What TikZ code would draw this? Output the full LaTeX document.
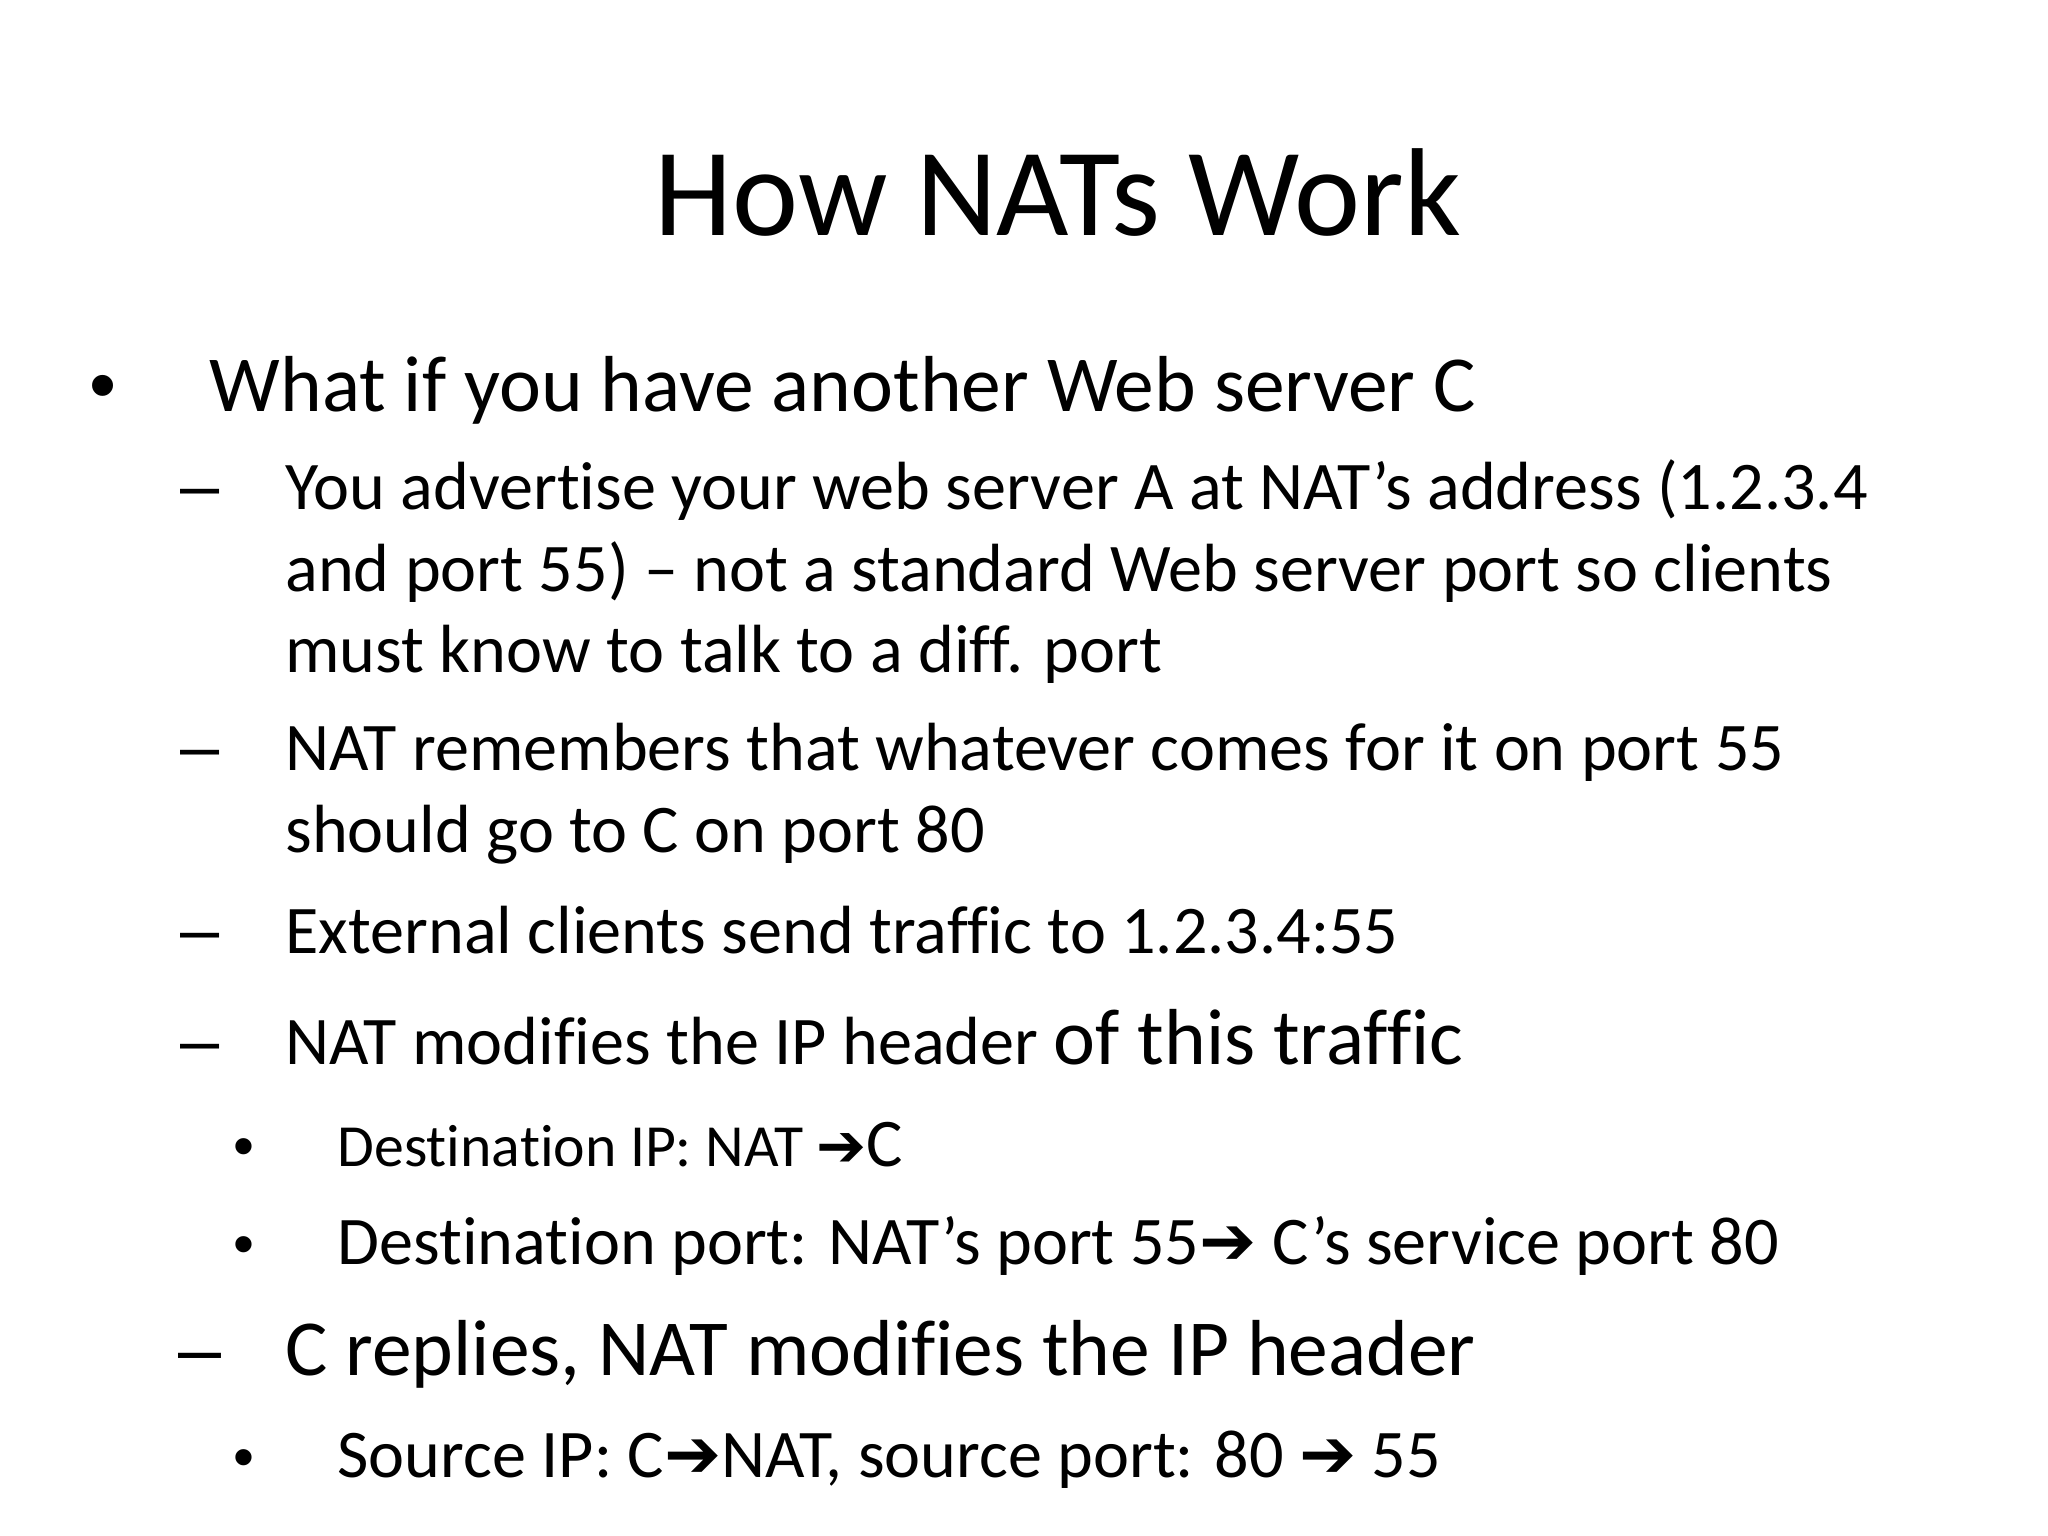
\documentclass[tikz,border=0pt]{standalone}
\usepackage{fontspec}
\setmainfont[Ligatures=NoCommon]{Carlito}
\newfontfamily\symf{DejaVu Sans Bold}
\newfontfamily\bulf{Liberation Sans}
\newcommand{\arr}{{\symf\char"2794}}
\begin{document}
\begin{tikzpicture}[x=0.01306cm,y=-0.01306cm,
  t/.style={anchor=base west,inner sep=0pt},
  fa/.style={font=\fontsize{22.6}{26}\selectfont},
  fb/.style={font=\fontsize{19.4}{23}\selectfont},
  fc/.style={font=\fontsize{17}{20}\selectfont}]
\fill[white] (0,0) rectangle (1568,1176);
\node[anchor=base,inner sep=0pt,font=\fontsize{35.6}{42}\selectfont] (title) at (810,180) {How NATs Work};
\node[t,fa,font=\bulf\fontsize{22}{26}\selectfont] (b1) at (68,315) {•};
\node[t,fa] (l1) at (160,315) {What if you have another Web server C};
\node[t,font=\bulf\fontsize{20}{24}\selectfont] (d1) at (138,390) {–};
\node[t,fb] (l2a) at (218,390) {You advertise your web server A at NAT’s address (1.2.3.4};
\node[t,fb] (l2b) at (218,453) {and port 55) – not a standard Web server port so clients};
\node[t,fb] (l2c) at (218,515) {must know to talk to a diff. port};
\node[t,font=\bulf\fontsize{20}{24}\selectfont] (d2) at (138,590) {–};
\node[t,fb] (l3a) at (218,590) {NAT remembers that whatever comes for it on port 55};
\node[t,fb] (l3b) at (218,653) {should go to C on port 80};
\node[t,font=\bulf\fontsize{20}{24}\selectfont] (d3) at (138,730) {–};
\node[t,fb] (l4) at (218,730) {External clients send traffic to 1.2.3.4:55};
\node[t,font=\bulf\fontsize{20}{24}\selectfont] (d4) at (138,815) {–};
\node[t,fb] (l5) at (218,815) {NAT modifies the IP header {\fontsize{22.6}{26}\selectfont of this traffic}};
\node[t,font=\bulf\fontsize{17}{20}\selectfont] (b2) at (178,893) {•};
\node[t,fc] (l6) at (258,893) {Destination IP: NAT \arr{\fontsize{19.4}{23}\selectfont C}};
\node[t,font=\bulf\fontsize{17}{20}\selectfont] (b3) at (178,968) {•};
\node[t,fb] (l7) at (258,968) {Destination port: NAT’s port 55\arr{} C’s service port 80};
\node[t,font=\bulf\fontsize{22}{26}\selectfont] (d5) at (136,1053) {–};
\node[t,fa] (l8) at (218,1053) {C replies, NAT modifies the IP header};
\node[t,font=\bulf\fontsize{17}{20}\selectfont] (b4) at (178,1131) {•};
\node[t,fb] (l9) at (258,1131) {Source IP: C\arr NAT, source port: 80 \arr{} 55};
\end{tikzpicture}
\end{document}
